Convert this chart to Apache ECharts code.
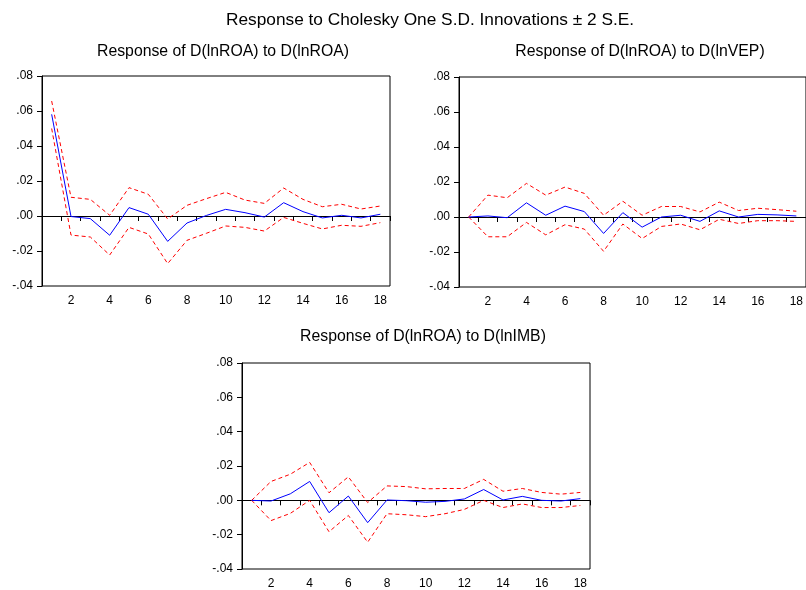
<!DOCTYPE html>
<html><head><meta charset="utf-8">
<script src="https://cdn.jsdelivr.net/npm/echarts@6/dist/echarts.min.js"></script>
<style>html,body{margin:0;padding:0;background:#fff}#c{width:806px;height:590px}</style>
</head><body><div id="c"></div>
<script>
const periods = ['1','2','3','4','5','6','7','8','9','10','11','12','13','14','15','16','17','18'];
const yTicks = [-0.04, -0.02, 0.00, 0.02, 0.04, 0.06, 0.08];

const roaResp  = [0.0581,-0.0003,-0.0015,-0.011,0.0048,0.001,-0.0145,-0.004,0.0003,0.0038,0.0019,-0.0006,0.0076,0.0025,-0.0011,0.0004,-0.0011,0.001];
const roaUpper = [0.0657,0.0107,0.0095,0.0004,0.0162,0.0124,-0.0017,0.0061,0.0099,0.0135,0.0091,0.0072,0.016,0.0095,0.0053,0.0067,0.004,0.0057];
const roaLower = [0.050,-0.0109,-0.012,-0.0223,-0.0065,-0.0103,-0.0272,-0.0139,-0.0099,-0.0057,-0.0065,-0.0086,-0.0008,-0.0042,-0.0074,-0.0053,-0.0059,-0.0038];

const vepResp  = [0,0.0006,-0.0004,0.0081,0.001,0.0062,0.0031,-0.0094,0.0025,-0.0058,0.0,0.001,-0.0025,0.0035,0.0,0.0015,0.0012,0.0006];
const vepUpper = [0,0.0125,0.011,0.0192,0.0125,0.0171,0.0135,0.001,0.009,0.001,0.006,0.006,0.0029,0.0085,0.0037,0.005,0.0042,0.0033];
const vepLower = [0,-0.0113,-0.0113,-0.0031,-0.0102,-0.0044,-0.0069,-0.0196,-0.004,-0.0123,-0.0054,-0.004,-0.0073,-0.0013,-0.0037,-0.0021,-0.0021,-0.0025];

const imbResp  = [0,-0.0004,0.0038,0.011,-0.0072,0.0025,-0.013,0.0002,-0.0002,-0.0011,-0.0006,0.0008,0.0063,0.0002,0.0023,0.0,-0.0004,0.001];
const imbUpper = [0,0.011,0.0152,0.0221,0.0044,0.0137,-0.0013,0.0084,0.008,0.0067,0.0069,0.0069,0.0122,0.0053,0.0069,0.0046,0.0036,0.0046];
const imbLower = [0,-0.0118,-0.0076,0,-0.0183,-0.0088,-0.0244,-0.0078,-0.0084,-0.0095,-0.0078,-0.0053,0,-0.0042,-0.0021,-0.0042,-0.0042,-0.003];

const mainTitle = 'Response to Cholesky One S.D. Innovations \u00b1 2 S.E.';
const panelTitles = ['Response of D(lnROA) to D(lnROA)','Response of D(lnROA) to D(lnVEP)','Response of D(lnROA) to D(lnIMB)'];

const FONT = 'Liberation Sans, Arial, sans-serif';
const grids = [
  {left:42, top:76, width:348, height:210},
  {left:459, top:77, width:348, height:210},
  {left:242, top:363, width:348, height:209}
];
const panels = [[roaResp,roaUpper,roaLower],[vepResp,vepUpper,vepLower],[imbResp,imbUpper,imbLower]];

function fmt(v){
  const s = v.toFixed(2);
  return s.replace(/^(-?)0\./,'$1.');
}

const subStyle = {fontFamily:FONT,fontSize:15.8,fontWeight:'normal',color:'#000'};
const option = {
  animation:false,
  backgroundColor:'#fff',
  title:[
    {text:mainTitle,left:425,top:7,textAlign:'center',textStyle:{fontFamily:FONT,fontSize:17.3,fontWeight:'normal',color:'#000'}},
    {text:panelTitles[0],left:218,top:39,textAlign:'center',textStyle:subStyle},
    {text:panelTitles[1],left:635,top:39,textAlign:'center',textStyle:subStyle},
    {text:panelTitles[2],left:418,top:324,textAlign:'center',textStyle:subStyle}
  ],
  grid: grids.map(g=>Object.assign({show:true,borderColor:'#000',borderWidth:1,backgroundColor:'#fff'},g)),
  xAxis: grids.map((g,i)=>({
    type:'category',gridIndex:i,data:periods,boundaryGap:true,
    axisLine:{lineStyle:{color:'#000',width:1}},
    axisTick:{show:true,interval:0,length:5,inside:false,lineStyle:{color:'#000'}},
    axisLabel:{interval:(idx)=>idx%2===1,color:'#000',fontFamily:FONT,fontSize:12,margin:9},
    splitLine:{show:false}
  })),
  yAxis: grids.map((g,i)=>({
    type:'value',gridIndex:i,min:-0.04,max:0.08,interval:0.02,
    axisLine:{show:true,lineStyle:{color:'#000',width:1}},
    axisTick:{show:true,length:5,lineStyle:{color:'#000'}},
    axisLabel:{color:'#000',fontFamily:FONT,fontSize:12,margin:9,formatter:(v)=>{
      const t = yTicks.find(x=>Math.abs(x-v)<1e-9);
      return t===undefined?'':fmt(t);
    }},
    splitLine:{show:false}
  })),
  series: []
};

panels.forEach((p,i)=>{
  option.series.push({
    type:'line',xAxisIndex:i,yAxisIndex:i,data:p[1],symbol:'none',
    lineStyle:{color:'#ff0000',width:1,type:[4,3]},silent:true,z:3
  });
  option.series.push({
    type:'line',xAxisIndex:i,yAxisIndex:i,data:p[2],symbol:'none',
    lineStyle:{color:'#ff0000',width:1,type:[4,3]},silent:true,z:3
  });
  option.series.push({
    type:'line',xAxisIndex:i,yAxisIndex:i,data:p[0],symbol:'none',
    lineStyle:{color:'#0000ff',width:1},silent:true,z:4,
    markLine:{silent:true,symbol:'none',label:{show:false},animation:false,z:2,
      lineStyle:{color:'#000',width:1,type:'solid'},data:[{yAxis:0}]}
  });
});

const chart = echarts.init(document.getElementById('c'),null,{renderer:'canvas'});
chart.setOption(option);
</script>
</body></html>
